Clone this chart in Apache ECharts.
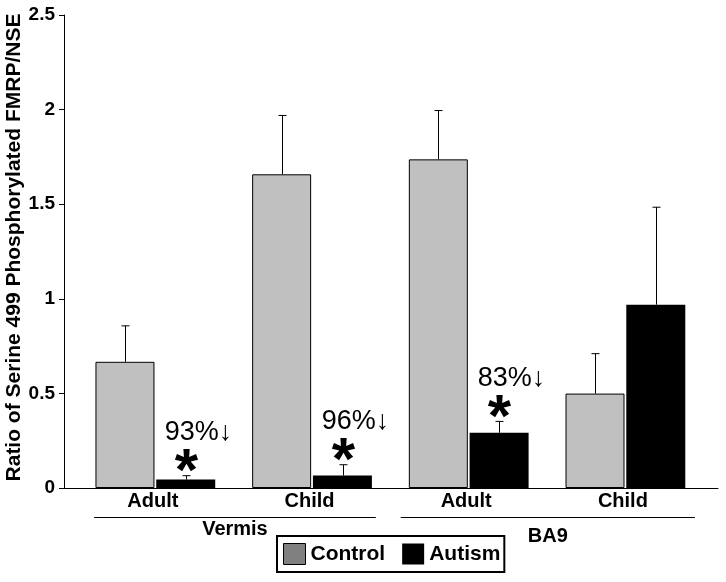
<!DOCTYPE html>
<html>
<head>
<meta charset="utf-8">
<script src="https://cdn.jsdelivr.net/npm/echarts@6/dist/echarts.min.js"></script>
<style>
html,body{margin:0;padding:0;background:#fff;}
#chart{width:726px;height:582px;}
</style>
</head>
<body>
<div id="chart"></div>
<script>
const categories = ['Adult', 'Child', 'Adult', 'Child'];
const groups = ['Vermis', 'BA9'];
const seriesNames = ['Control', 'Autism'];
const controlMean = [0.667, 1.658, 1.737, 0.499];
const controlSem = [0.190, 0.311, 0.258, 0.211];
const autismMean = [0.045, 0.066, 0.292, 0.969];
const autismSem = [0.020, 0.057, 0.060, 0.515];
const changeLabels = ['93%', '96%', '83%', ''];
const starLabels = ['*', '*', '*', ''];
const yTicks = [0, 0.5, 1, 1.5, 2, 2.5];

const FONT = '"Liberation Sans", Arial, sans-serif';
const BAR_W = 59;
const HALF = 30.5;
const STAR_SIZE = 60;

const chart = echarts.init(document.getElementById('chart'), null, {renderer: 'canvas'});

function errRender(offset, withNotes) {
  return function (params, api) {
    const i = api.value(0);
    const top = api.coord([i, api.value(1)]);
    const end = api.coord([i, api.value(1) + api.value(2)]);
    const x = Math.round(top[0] + offset) + 0.5;
    const children = [
      {type: 'line', shape: {x1: x, y1: top[1], x2: x, y2: end[1]}, style: {stroke: '#000', lineWidth: 1}},
      {type: 'line', shape: {x1: x - 4, y1: end[1], x2: x + 4, y2: end[1]}, style: {stroke: '#000', lineWidth: 1}}
    ];
    if (withNotes) {
      const star = starLabels[i];
      const note = changeLabels[i];
      if (star) {
        children.push({type: 'text', x: x, y: end[1] - 15 + 0.21 * STAR_SIZE,
          style: {text: star, font: 'bold ' + STAR_SIZE + 'px ' + FONT, fill: '#000', align: 'center', verticalAlign: 'middle'}});
      }
      if (note) {
        children.push({type: 'text', x: x + 12, y: end[1] - 43,
          style: {text: '{n|' + note + '}{a|\u2193}', align: 'center', verticalAlign: 'middle',
            rich: {
              n: {font: '27px ' + FONT, fill: '#000'},
              a: {font: 'bold 27px ' + FONT, fill: '#000'}
            }}});
      }
    }
    return {type: 'group', children: children};
  };
}

const option = {
  backgroundColor: '#fff',
  animation: false,
  grid: {left: 64, right: 8, top: 15, bottom: 94, containLabel: false, outerBoundsMode: 'none'},
  xAxis: {
    type: 'value',
    min: -0.583,
    max: 3.591,
    axisLine: {show: true, onZero: false, lineStyle: {color: '#000', width: 1}},
    axisTick: {show: false},
    splitLine: {show: false},
    axisLabel: {
      customValues: [0, 1, 2, 3],
      formatter: function (v) { return categories[Math.round(v)]; },
      fontFamily: FONT, fontWeight: 'bold', fontSize: 20, color: '#000', margin: 3,
      padding: [0, 5, 0, 0]
    }
  },
  yAxis: {
    type: 'value',
    min: 0,
    max: 2.5,
    interval: 0.5,
    name: 'Ratio of Serine 499 Phosphorylated FMRP/NSE',
    nameLocation: 'middle',
    nameGap: 39,
    nameRotate: 90,
    nameMoveOverlap: false,
    nameTextStyle: {fontFamily: FONT, fontWeight: 'bold', fontSize: 21, color: '#000', padding: [0, 0, 0, 8]},
    axisLine: {show: true, onZero: false, lineStyle: {color: '#000', width: 1}},
    axisTick: {show: true, inside: false, length: 5, lineStyle: {color: '#000'}},
    splitLine: {show: false},
    axisLabel: {fontFamily: FONT, fontWeight: 'bold', fontSize: 19, color: '#000', margin: 9,
      formatter: function (v) { return String(v); }}
  },
  legend: {
    left: 277, top: 536,
    orient: 'horizontal',
    icon: 'rect',
    itemWidth: 22, itemHeight: 21,
    itemGap: 17,
    padding: [7, 4, 7, 6],
    borderColor: '#000', borderWidth: 2,
    backgroundColor: '#fff',
    selectedMode: false,
    textStyle: {fontFamily: FONT, fontWeight: 'bold', fontSize: 21, color: '#000'},
    data: [
      {name: seriesNames[0], itemStyle: {color: '#808080', borderColor: '#000', borderWidth: 1}},
      {name: seriesNames[1], itemStyle: {color: '#000'}}
    ]
  },
  graphic: [],
  series: [
    {
      name: seriesNames[0], type: 'bar', barWidth: BAR_W, barGap: '3%',
      itemStyle: {color: '#c0c0c0', borderColor: '#000', borderWidth: 1},
      data: controlMean.map(function (v, i) { return [i, v]; }), z: 2
    },
    {
      name: seriesNames[1], type: 'bar', barWidth: BAR_W, barGap: '3%',
      itemStyle: {color: '#000'},
      data: autismMean.map(function (v, i) { return [i, v]; }), z: 2
    },
    {
      type: 'custom', renderItem: errRender(-HALF, false), z: 3,
      data: controlMean.map(function (v, i) { return [i, v, controlSem[i]]; })
    },
    {
      type: 'custom', renderItem: errRender(HALF, true), z: 3,
      data: autismMean.map(function (v, i) { return [i, v, autismSem[i]]; })
    }
  ]
};

chart.setOption(option);

// group brackets below category labels
const spans = [[-0.391, 1.407], [1.566, 3.444]];
const labelY = [529, 536];
const gfx = [];
groups.forEach(function (g, k) {
  const a = chart.convertToPixel({gridIndex: 0}, [spans[k][0], 0]);
  const b = chart.convertToPixel({gridIndex: 0}, [spans[k][1], 0]);
  gfx.push({type: 'line', shape: {x1: a[0], y1: 517.5, x2: b[0], y2: 517.5}, style: {stroke: '#000', lineWidth: 1}});
  gfx.push({type: 'text', x: (a[0] + b[0]) / 2, y: labelY[k],
    style: {text: g, font: 'bold 20px ' + FONT, fill: '#000', align: 'center', verticalAlign: 'middle'}});
});
chart.setOption({graphic: gfx});
</script>
</body>
</html>
